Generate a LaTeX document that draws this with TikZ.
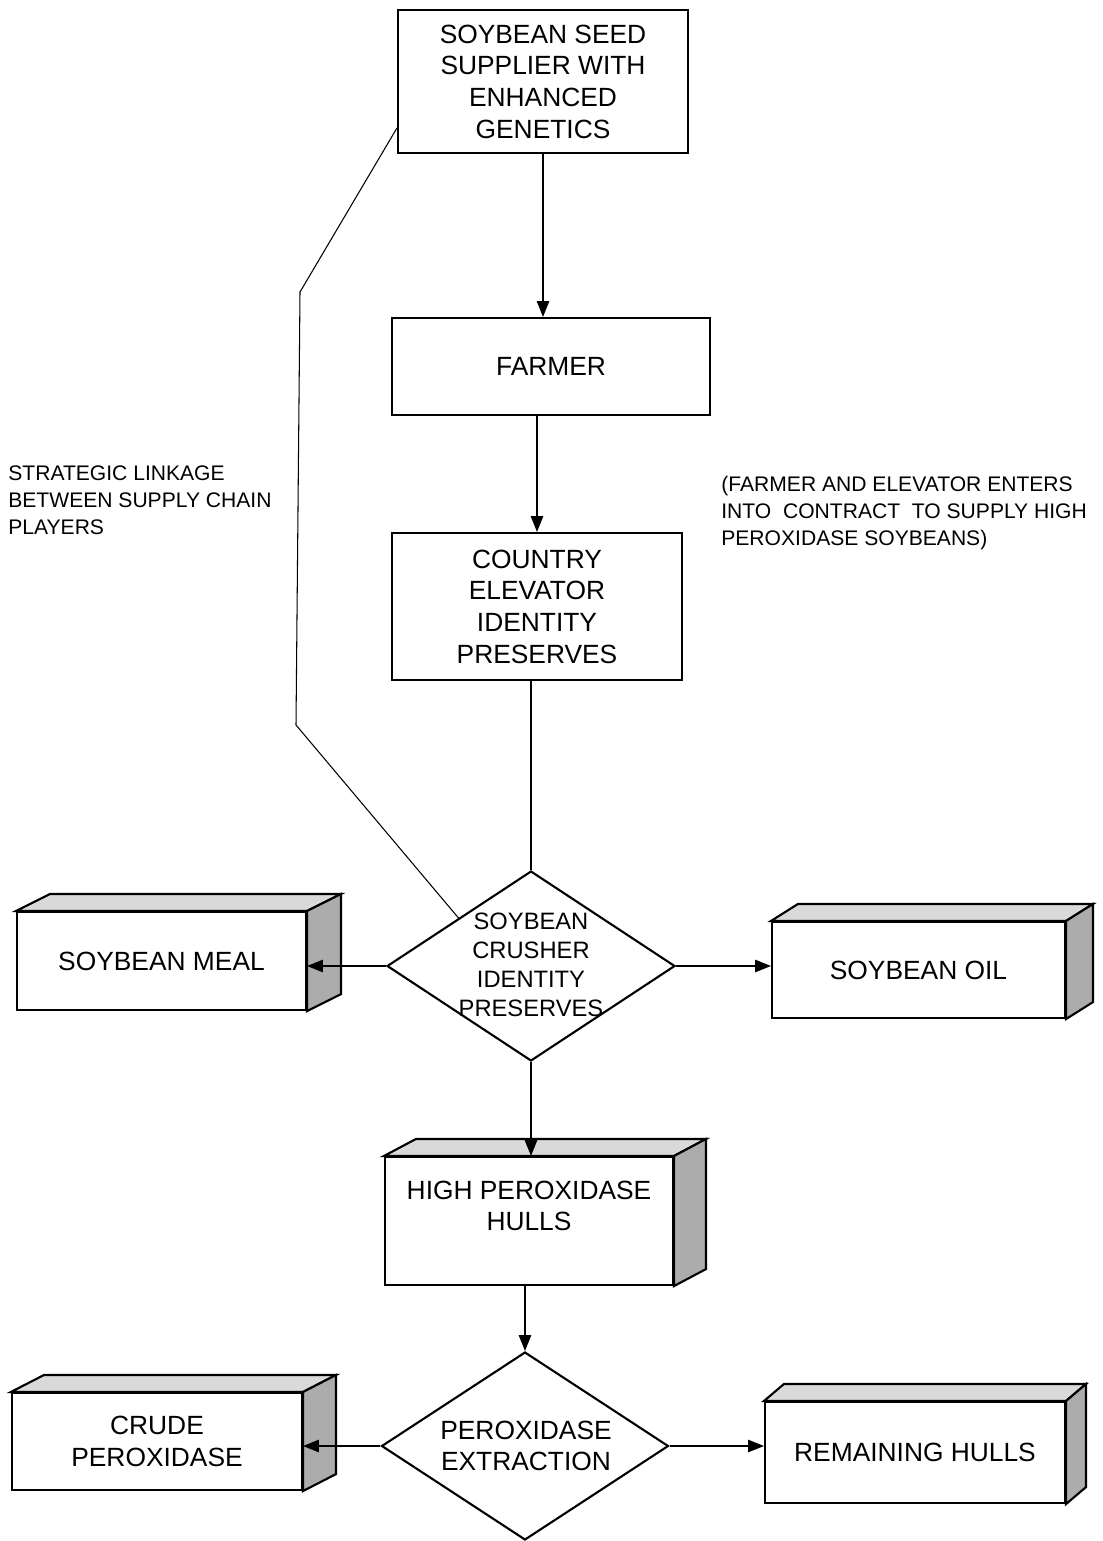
\documentclass[tikz,border=0pt]{standalone}
\usepackage{fontspec}
\setmainfont{Liberation Sans}
\usepackage{tikz}
\usetikzlibrary{arrows.meta}
\usetikzlibrary{shapes.geometric}
\tikzstyle{plainbox}=[rectangle, draw=black, line width=1.2pt, align=center, inner sep=0pt, font=\fontsize{15}{18}\selectfont]
\tikzstyle{decide}=[diamond, draw=black, line width=1.2pt, inner sep=0pt]
\tikzstyle{words}=[align=center, inner sep=0pt]
\tikzstyle{note}=[align=left, anchor=west, inner sep=0pt, font=\fontsize{12}{15.3}\selectfont]
\tikzstyle{flow}=[-{Triangle[length=9pt,width=7pt]}, line width=0.9pt]
\tikzstyle{link}=[line width=0.6pt]

\begin{document}
\begin{tikzpicture}[x=0.02cm, y=-0.02cm]
    \useasboundingbox (0,0) rectangle (1102,1541);
    % chain of players
    \node[plainbox, minimum width=5.8cm, minimum height=2.86cm] (seed) at (543,81.5)
      {SOYBEAN SEED\\SUPPLIER WITH\\ENHANCED\\GENETICS};
    \node[plainbox, minimum width=6.36cm, minimum height=1.94cm] (farmer) at (551,366.5) {FARMER};
    \node[plainbox, minimum width=5.8cm, minimum height=2.94cm] (elev) at (537,606.5)
      {COUNTRY\\ELEVATOR\\IDENTITY\\PRESERVES};
    \node[decide, minimum width=5.76cm, minimum height=3.8cm] (crusher) at (531,966) {};
    \node[words, font=\fontsize{13.5}{16.4}\selectfont] (crushtxt) at (531,965)
      {SOYBEAN\\CRUSHER\\IDENTITY\\PRESERVES};
    % products
    \node[plainbox, minimum width=5.78cm, minimum height=1.96cm] (meal) at (161.5,961) {SOYBEAN MEAL};
    \node[plainbox, minimum width=5.86cm, minimum height=1.92cm] (oil) at (918.5,970) {SOYBEAN OIL};
    \node[plainbox, minimum width=5.76cm, minimum height=2.56cm] (hulls) at (529,1221) {};
    \node[words, font=\fontsize{15}{18}\selectfont] (hullstxt) at (529,1206) {HIGH PEROXIDASE\\HULLS};
    \node[decide, minimum width=5.74cm, minimum height=3.76cm] (extract) at (525,1446) {};
    \node[words, font=\fontsize{15}{18}\selectfont] (extracttxt) at (526,1446) {PEROXIDASE\\EXTRACTION};
    \node[plainbox, minimum width=5.8cm, minimum height=1.94cm] (crude) at (157,1441.5) {CRUDE\\PEROXIDASE};
    \node[plainbox, minimum width=6.0cm, minimum height=2.02cm] (rest) at (915,1452.5) {REMAINING HULLS};
    % notes
    \node[note] (linknote) at (8,500) {STRATEGIC LINKAGE\\BETWEEN SUPPLY CHAIN\\PLAYERS};
    \node[note] (contract) at (721,513)
      {(FARMER AND ELEVATOR ENTERS\\INTO\ \ CONTRACT\ \ TO SUPPLY HIGH\\PEROXIDASE SOYBEANS)};
    % 3d faces
    \foreach \b/\dx in {meal/34, oil/27, hulls/32, crude/33, rest/20}{
      \filldraw[fill=gray!30, line width=1.2pt] (\b.north west) -- ([shift={(\dx,-17)}]\b.north west)
        -- ([shift={(\dx,-17)}]\b.north east) -- (\b.north east) -- cycle;
      \filldraw[fill=gray!65, line width=1.2pt] (\b.north east) -- ([shift={(\dx,-17)}]\b.north east)
        -- ([shift={(\dx,-17)}]\b.south east) -- (\b.south east) -- cycle;
    }
    % connectors
    \coordinate (linkstart) at (398,128);
    \coordinate (bend1) at (300,292);
    \coordinate (bend2) at (296,725);
    \draw[link] (seed.west |- linkstart) -- (bend1) -- (bend2) -- (crusher.north west);
    \draw[flow] (seed.south) -- (seed.south |- farmer.north);
    \draw[flow] (farmer.south -| elev.north) -- (elev.north);
    \draw[line width=0.9pt] (elev.south -| crusher.north) -- (crusher.north);
    \draw[flow] (crusher.west) -- (crusher.west -| meal.east);
    \draw[flow] (crusher.east) -- (crusher.east -| oil.west);
    \draw[flow] (crusher.south) -- (crusher.south |- hulls.north);
    \draw[flow] (hulls.south -| extract.north) -- (extract.north);
    \draw[flow] (extract.west) -- (extract.west -| crude.east);
    \draw[flow] (extract.east) -- (extract.east -| rest.west);
\end{tikzpicture}
\end{document}
